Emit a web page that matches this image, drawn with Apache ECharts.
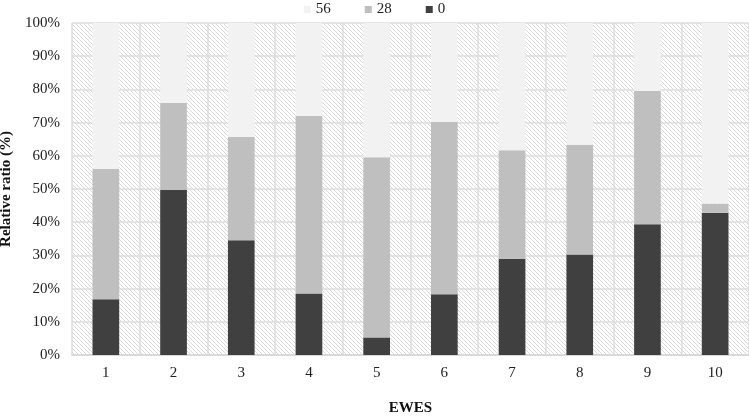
<!DOCTYPE html>
<html>
<head>
<meta charset="utf-8">
<script src="https://cdn.jsdelivr.net/npm/echarts@6/dist/echarts.min.js"></script>
<style>html,body{margin:0;padding:0;background:#fff}#c{width:749px;height:416px}</style>
</head>
<body>
<div id="c"></div>
<script>
var categories = ['1','2','3','4','5','6','7','8','9','10'];
var series0  = [16.8, 49.7, 34.6, 18.5, 5.3, 18.3, 29.0, 30.3, 39.4, 42.8];
var series28 = [39.2, 26.2, 31.1, 53.5, 54.3, 51.9, 32.7, 33.0, 40.1, 2.8];
var series56 = [44.0, 24.1, 34.3, 28.0, 40.4, 29.8, 38.3, 36.7, 20.5, 54.4];
var legendOrder = ['56', '28', '0'];

var tile = document.createElement('canvas');
tile.width = 4; tile.height = 4;
var tc = tile.getContext('2d');
tc.fillStyle = '#ffffff'; tc.fillRect(0,0,4,4);
tc.fillStyle = '#dadada';
for (var i = 0; i < 4; i++) { tc.fillRect(i, i, 1, 1); }

var font = 'Liberation Serif';
var chart = echarts.init(document.getElementById('c'), null, {renderer: 'canvas'});
function mk(name, data, color) {
  return {name: name, type: 'bar', stack: 'a', data: data, barWidth: '39.4%',
    itemStyle: {color: color}, emphasis: {disabled: true}};
}
chart.setOption({
  animation: false,
  textStyle: {fontFamily: font},
  legend: {
    data: legendOrder, top: 2, left: 'center', padding: 0, itemWidth: 7, itemHeight: 7, itemGap: 34,
    icon: 'rect', textStyle: {fontFamily: font, fontSize: 15, color: '#222'}
  },
  grid: {left: 72, right: 0, top: 23, bottom: 61, show: true, borderWidth: 0,
    outerBoundsMode: 'none', containLabel: false,
    backgroundColor: {image: tile, repeat: 'repeat'}},
  xAxis: {
    type: 'category', data: categories,
    name: 'EWES', nameLocation: 'middle', nameGap: 46,
    nameTextStyle: {fontFamily: font, fontWeight: 'bold', fontSize: 15, color: '#111'},
    axisLine: {show: true, lineStyle: {color: '#d9d9d9', width: 2}},
    axisTick: {show: false},
    axisLabel: {fontFamily: font, fontSize: 15, color: '#222', margin: 11},
    splitLine: {show: true, lineStyle: {color: '#dcdcdc', width: 1.5}}
  },
  yAxis: {
    type: 'value', min: 0, max: 100, interval: 10,
    name: 'Relative ratio (%)', nameLocation: 'middle', nameGap: 53,
    nameTextStyle: {fontFamily: font, fontWeight: 'bold', fontSize: 15, color: '#111'},
    axisLine: {show: false}, axisTick: {show: false},
    axisLabel: {formatter: '{value}%', fontFamily: font, fontSize: 15, color: '#222', margin: 12},
    splitLine: {show: true, lineStyle: {color: '#dcdcdc', width: 1.5}}
  },
  series: [
    mk('0', series0, '#404040'),
    mk('28', series28, '#bfbfbf'),
    mk('56', series56, '#f2f2f2')
  ]
});
</script>
</body>
</html>
